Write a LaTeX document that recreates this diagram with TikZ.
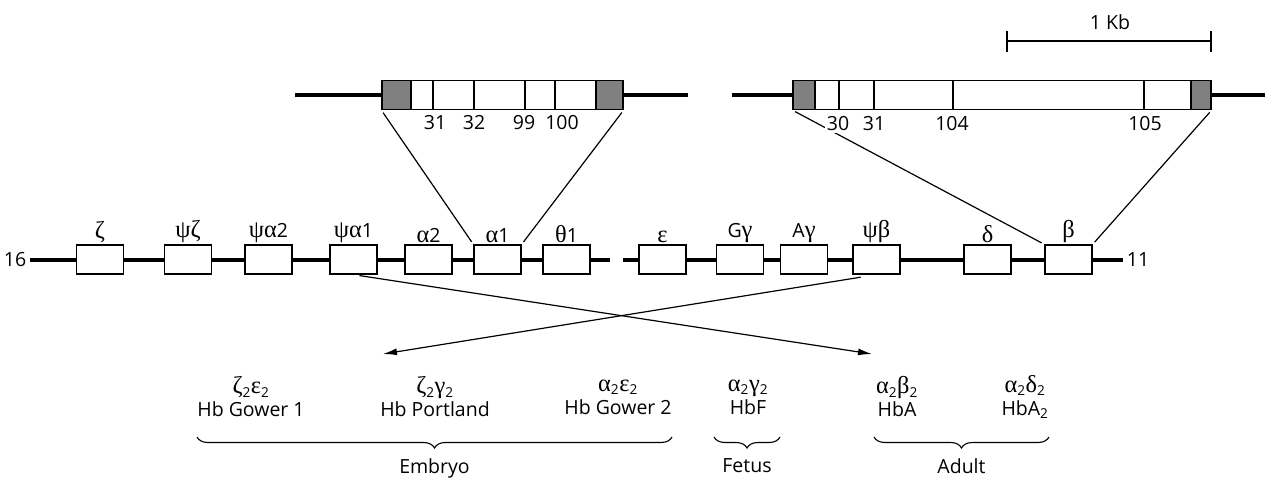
\documentclass[tikz,border=0pt]{standalone}
\usepackage{fontspec}
\setmainfont{Open Sans}
\newfontfamily\grk{Liberation Serif}[Scale=1.25]
\usetikzlibrary{arrows.meta,positioning,decorations.pathreplacing}
\definecolor{utrgray}{HTML}{808080}

\begin{document}
\begin{tikzpicture}[x=1pt,y=-1pt,
  font=\fontsize{19.5}{23}\selectfont,
  every node/.style={align=center},
  gene/.style={draw=black,line width=1.3pt,fill=white,minimum width=47pt,
               minimum height=29pt,inner sep=0pt},
  utr/.style={draw=black,line width=1.3pt,fill=utrgray,minimum height=29pt,inner sep=0pt},
  cds/.style={draw=black,line width=1.3pt,fill=white,minimum height=29pt,inner sep=0pt},
  chrom/.style={line width=4pt},
  thinln/.style={line width=1.3pt},
  proj/.style={line width=1.2pt,shorten <=3pt,shorten >=3pt},
  nlbl/.style={fill=white,inner sep=2pt},
  arr/.style={-{Latex[length=14pt,width=7pt]},line width=1.2pt},
  brc/.style={decorate,decoration={brace,mirror,amplitude=11pt},line width=1.1pt},
  every label/.style={inner sep=1.5pt}
]
\useasboundingbox (0,0) rectangle (1265,479);

% chromosome 16 and 11
\node (c16) at (15,260) {16};
\node (c11) at (1138,260) {11};
\coordinate (aend) at (610,260);
\coordinate (bstart) at (623,260);
\draw[chrom] (c16.east) -- (aend);
\draw[chrom] (bstart) -- (c11.west);

\node[gene,label={above:{\grk ζ}}]      (zeta)  at (100,259.5) {};
\node[gene,label={above:{\grk ψζ}}]     (pzeta) at (188,259.5) {};
\node[gene,label={above:{\grk ψα}2}]    (pa2)   at (268.5,259.5) {};
\node[gene,label={above:{\grk ψα}1}]    (pa1)   at (353.5,259.5) {};
\node[gene,label={above:{\grk α}2}]     (a2)    at (428.5,259.5) {};
\node[gene,label={above:{\grk α}1}]     (a1)    at (497.5,259.5) {};
\node[gene,label={above:{\grk θ}1}]     (th1)   at (566.5,259.5) {};

\node[gene,label={above:{\grk ε}}]      (eps)   at (662.5,259.5) {};
\node[gene,label={above:G{\grk γ}}]     (gg)    at (740,259.5) {};
\node[gene,label={above:A{\grk γ}}]     (ag)    at (804,259.5) {};
\node[gene,label={above:{\grk ψβ}}]     (pb)    at (876.5,259.5) {};
\node[gene,label={above:{\grk δ}}]      (del)   at (987.5,259.5) {};
\node[gene,label={above:{\grk β}}]      (bet)   at (1068.5,259.5) {};

% alpha gene, enlarged
\coordinate (tal) at (295,95);
\coordinate (tar) at (688,95);
\draw[chrom] (tal) -- (tar);
\node[utr,minimum width=29pt]  (aL) at (396.5,95) {};
\node[cds,minimum width=185pt] (aB) at (503.5,95) {};
\node[utr,minimum width=27pt]  (aR) at (609.5,95) {};
\foreach \x in {433,474,525,555}
  \draw[thinln] (\x,80.5) -- (\x,109.5);

% beta gene, enlarged
\coordinate (tbl) at (732,95);
\coordinate (tbr) at (1265,95);
\draw[chrom] (tbl) -- (tbr);
\node[utr,minimum width=22pt]  (bL) at (804,95) {};
\node[cds,minimum width=376pt] (bB) at (1003,95) {};
\node[utr,minimum width=20pt]  (bR) at (1201,95) {};
\foreach \x in {839,874,953,1144}
  \draw[thinln] (\x,80.5) -- (\x,109.5);

\draw[proj] (aL.south west) -- (a1.north west);
\draw[proj] (aR.south east) -- (a1.north east);
\draw[proj] (bL.south west) -- (bet.north west);
\draw[proj] (bR.south east) -- (bet.north east);

\node[nlbl] (n31a)  at (435,123) {31};
\node[nlbl] (n32)   at (474,123) {32};
\node[nlbl] (n99)   at (524,123) {99};
\node[nlbl] (n100)  at (562,123) {100};
\node[nlbl] (n30)   at (838,124) {30};
\node[nlbl] (n31b)  at (874,124) {31};
\node[nlbl] (n104)  at (952,124) {104};
\node[nlbl] (n105)  at (1145,124) {105};

% scale bar
\coordinate (kbL) at (1007,41);
\coordinate (kbR) at (1211,41);
\draw[line width=2.2pt] (kbL) -- (kbR);
\draw[thinln] ([yshift=10pt]kbL) -- ([yshift=-11pt]kbL);
\draw[thinln] ([yshift=10pt]kbR) -- ([yshift=-11pt]kbR);
\node (kb) at (1110,22) {1 Kb};

% haemoglobins
\node (gower1)   at (251,397)  {{\grk ζ}\textsubscript{2}{\grk ε}\textsubscript{2}\\Hb Gower 1};
\node (portland) at (435,397)  {{\grk ζ}\textsubscript{2}{\grk γ}\textsubscript{2}\\Hb Portland};
\node (gower2)   at (618,397)  {{\grk α}\textsubscript{2}{\grk ε}\textsubscript{2}\\Hb Gower 2};
\node (hbf)      at (748,397)  {{\grk α}\textsubscript{2}{\grk γ}\textsubscript{2}\\HbF};
\node (hba)      at (897,397)  {{\grk α}\textsubscript{2}{\grk β}\textsubscript{2}\\HbA};
\node (hba2)     at (1025,397) {{\grk α}\textsubscript{2}{\grk δ}\textsubscript{2}\\HbA\textsubscript{2}};

\coordinate (toHbA) at (872,354);
\coordinate (toEmb) at (383,354);
\draw[arr,shorten <=6pt]  (pa1.south) -- (toHbA);
\draw[arr,shorten <=16pt] (pb.south) -- (toEmb);

\draw[brc] (197,437) -- (672,437) node[midway,below=18pt] (embryo) {Embryo};
\draw[brc] (714,437) -- (780,437) node[midway,below=18pt] (fetus) {Fetus};
\draw[brc] (874,437) -- (1049,437) node[midway,below=18pt] (adult) {Adult};
\end{tikzpicture}
\end{document}
